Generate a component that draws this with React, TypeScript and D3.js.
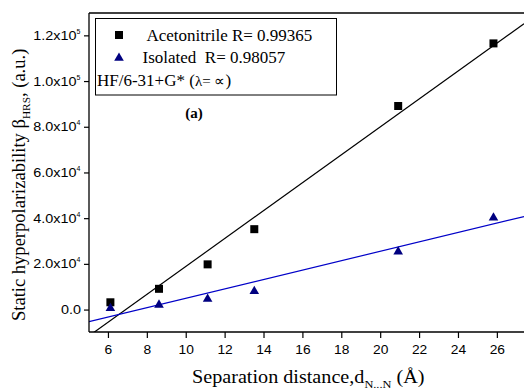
import React from "react";
import * as d3 from "d3";

const distances = [6.1, 8.6, 11.1, 13.5, 20.9, 25.8];
const acetonitrile = [3400, 9300, 20000, 35400, 89300, 116700];
const isolated = [1200, 2700, 5300, 8700, 26000, 40800];
const xTicks = [6, 8, 10, 12, 14, 16, 18, 20, 22, 24, 26];
const yTicks = [0, 20000, 40000, 60000, 80000, 100000, 120000];
const yTickMantissa = ["0.0", "2.0x10", "4.0x10", "6.0x10", "8.0x10", "1.0x10", "1.2x10"];
const yTickExp = ["", "4", "4", "4", "4", "5", "5"];

const W = 524, H = 391;
const M = { left: 89, top: 13, right: 524, bottom: 332 };

function fit(xs: number[], ys: number[]) {
  const mx = d3.mean(xs)!, my = d3.mean(ys)!;
  let sxy = 0, sxx = 0;
  xs.forEach((x, i) => { sxy += (x - mx) * (ys[i] - my); sxx += (x - mx) ** 2; });
  const b = sxy / sxx;
  return { a: my - b * mx, b };
}

export default function App() {
  const x = d3.scaleLinear().domain([5, 27.37]).range([M.left, M.right]);
  const y = d3.scaleLinear().domain([-9600, 130000]).range([M.bottom, M.top]);
  const fa = fit(distances, acetonitrile);
  const fi = fit(distances, isolated);
  const lineFor = (f: { a: number; b: number }) => {
    const xs = [5, 27.37];
    return d3.line<[number, number]>().x(d => x(d[0])).y(d => y(d[1]))(xs.map(v => [v, f.a + f.b * v] as [number, number]))!;
  };
  const tri = d3.symbol().type(d3.symbolTriangle).size(40)()!;
  const serif = "'Liberation Serif', 'Times New Roman', serif";
  const sans = "'Liberation Sans', Arial, sans-serif";
  return (
    <svg width={W} height={H} style={{ position: "absolute", left: 0, top: 0, background: "#fff" }}>
      <defs>
        <clipPath id="plot"><rect x={M.left} y={M.top} width={M.right - M.left} height={M.bottom - M.top} /></clipPath>
      </defs>
      <rect x={0} y={0} width={W} height={H} fill="#fff" />
      <g clipPath="url(#plot)">
        <path d={lineFor(fa)} stroke="#000" strokeWidth={1.2} fill="none" />
        <path d={lineFor(fi)} stroke="#0000c8" strokeWidth={1.2} fill="none" />
        {distances.map((d, i) => (
          <rect key={"s" + i} x={x(d) - 4} y={y(acetonitrile[i]) - 4} width={8} height={8} fill="#000" />
        ))}
        {distances.map((d, i) => (
          <path key={"t" + i} d={tri} transform={`translate(${x(d)},${y(isolated[i]) + 1})`} fill="#000080" />
        ))}
      </g>
      {/* frame */}
      <line x1={M.left} y1={M.top} x2={M.right} y2={M.top} stroke="#000" strokeWidth={1.3} />
      <line x1={M.left} y1={M.top} x2={M.left} y2={M.bottom} stroke="#000" strokeWidth={1.3} />
      <line x1={M.left} y1={M.bottom} x2={M.right} y2={M.bottom} stroke="#000" strokeWidth={1.3} />
      {/* x ticks */}
      {xTicks.map(t => (
        <g key={"x" + t}>
          <line x1={x(t)} x2={x(t)} y1={M.bottom} y2={M.bottom + 6} stroke="#000" strokeWidth={1.2} />
          <text transform={`translate(${x(t)},${M.bottom + 22}) scale(1.15,1)`} textAnchor="middle" fontFamily={sans} fontSize={12}>{t}</text>
        </g>
      ))}
      {/* y ticks */}
      {yTicks.map((t, i) => (
        <g key={"y" + t}>
          <line x1={M.left - 5} x2={M.left} y1={y(t)} y2={y(t)} stroke="#000" strokeWidth={1.2} />
          <text transform={`translate(${yTickExp[i] ? M.left - 12.5 : M.left - 8},${y(t) + 4}) scale(1.2,1)`} textAnchor="end" fontFamily={sans} fontSize={12}>{yTickMantissa[i]}</text>
          {yTickExp[i] && (
            <text x={M.left - 12.5} y={y(t) - 2} textAnchor="start" fontFamily={sans} fontSize={7}>{yTickExp[i]}</text>
          )}
        </g>
      ))}
      {/* legend */}
      <rect x={95.5} y={18.5} width={241} height={76.5} fill="#fff" stroke="#000" strokeWidth={1} />
      <rect x={115} y={31} width={8} height={8} fill="#000" />
      <text x={146.5} y={41} fontFamily={serif} fontSize={17}>Acetonitrile R= 0.99365</text>
      <path d={tri} transform="translate(119,58)" fill="#000080" />
      <text x={142.5} y={63} fontFamily={serif} fontSize={17} style={{ whiteSpace: "pre" }}>{"Isolated  R= 0.98057"}</text>
      <text x={97} y={86} fontFamily={serif} fontSize={17}>HF/6-31+G* (<tspan fontSize={15}>λ= ∝</tspan>)</text>
      <text x={194} y={118} textAnchor="middle" fontFamily={serif} fontSize={15} fontWeight="bold">(a)</text>
      {/* x title */}
      <text transform="translate(192,383) scale(1.12,1)" fontFamily={serif} fontSize={18}>
        Separation distance,d<tspan dy={5} fontSize={11}>N...N</tspan><tspan dy={-5}> (Å)</tspan>
      </text>
      {/* y title */}
      <text transform="translate(25,321) rotate(-90) scale(1.03,1)" fontFamily={serif} fontSize={18}>
        Static hyperpolarizability β<tspan dy={5} fontSize={11}>HRS</tspan><tspan dy={-5}>, (a.u.)</tspan>
      </text>
    </svg>
  );
}
